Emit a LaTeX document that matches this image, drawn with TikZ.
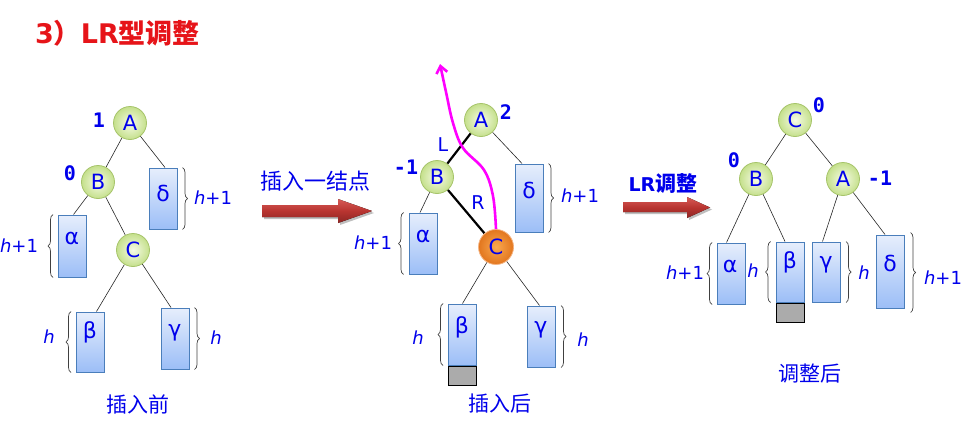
\documentclass[tikz,border=0pt]{standalone}
\usepackage{fontspec}
\setmainfont{DejaVu Sans}
\newfontfamily\cjk{Noto Sans CJK SC}
\newfontfamily\monof{DejaVu Sans Mono}
\usetikzlibrary{decorations.pathreplacing,arrows.meta,backgrounds}
\definecolor{tblue}{RGB}{0,0,235}
\definecolor{cgreen}{RGB}{166,196,106}
\definecolor{cin}{RGB}{246,251,230}
\definecolor{cout}{RGB}{197,224,140}
\definecolor{oin}{RGB}{250,168,80}
\definecolor{oout}{RGB}{226,118,30}
\definecolor{oline}{RGB}{245,180,130}
\definecolor{rblue}{RGB}{74,126,187}
\definecolor{rtop}{RGB}{230,238,252}
\definecolor{rbot}{RGB}{156,190,247}
\definecolor{atop}{RGB}{214,90,86}
\definecolor{amid}{RGB}{184,52,48}
\definecolor{abot}{RGB}{140,38,36}
\definecolor{mag}{RGB}{255,0,255}
\definecolor{ttred}{RGB}{230,20,25}
\begin{document}
\begin{tikzpicture}[x=1pt,y=-1pt,
  tnode/.style={circle, minimum size=33pt, inner sep=0pt, draw=cgreen, line width=0.8pt,
    inner color=cin, outer color=cout, text=tblue, font=\fontsize{21}{22}\selectfont},
  hot/.style={circle, minimum size=35pt, inner sep=0pt, draw=oline, line width=0.8pt,
    inner color=oin, outer color=oout, text=tblue, font=\fontsize{21}{22}\selectfont},
  sub/.style={rectangle, draw=rblue, line width=1pt, top color=rtop, bottom color=rbot,
    minimum width=28pt, inner sep=0pt},
  grey/.style={rectangle, draw=black, line width=0.8pt, fill=black!33,
    minimum width=28pt, minimum height=19pt, inner sep=0pt},
  gk/.style={text=tblue, font=\fontsize{22}{24}\selectfont, inner sep=0pt},
  lbl/.style={text=tblue, font=\fontsize{18}{20}\selectfont, inner sep=0pt},
  bfac/.style={text=tblue, font=\monof\bfseries\fontsize{20}{22}\selectfont, inner sep=0pt},
  brc/.style={draw=black!75, line width=0.7pt, decorate, decoration={brace, amplitude=5pt}},
  tedge/.style={draw=black!85, line width=0.6pt},
  kedge/.style={draw=black, line width=2.2pt},
  captext/.style={text=tblue, font=\cjk\fontsize{21}{22}\selectfont, inner sep=0pt},
  blockarrow/.style={top color=atop, bottom color=abot, middle color=amid, draw=none}
]
\useasboundingbox (0,0) rectangle (974,431);

% title
\node[anchor=west, text=ttred, inner sep=0pt] (title) at (35,33)
  {\fontsize{27}{29}\selectfont\bfseries 3{\cjk\bfseries ）}LR{\cjk\bfseries 型调整}};

% ---------- left tree ----------
\node[tnode] (A1) at (130,123) {A};
\node[tnode] (B1) at (98,182) {B};
\node[tnode] (C1) at (133,250) {C};
\node[sub, minimum height=61pt] (d1) at (163,198.5) {};
\node[sub, minimum height=62pt] (a1) at (72.5,246) {};
\node[sub, minimum height=60pt] (b1) at (90.5,342) {};
\node[sub, minimum height=61pt] (g1) at (175,338.5) {};
\node[gk] (d1t) at (163,193) {δ};
\node[gk] (a1t) at (72,238) {α};
\node[gk] (b1t) at (90,332) {β};
\node[gk] (g1t) at (175,333) {γ};
\node[bfac] (fA1) at (99,120) {1};
\node[bfac] (fB1) at (70,173) {0};
\draw[brc] ([xshift=5pt]d1.north east) -- ([xshift=5pt]d1.south east);
\draw[brc] ([xshift=-5pt]a1.south west) -- ([xshift=-5pt]a1.north west);
\draw[brc] ([xshift=-5pt]b1.south west) -- ([xshift=-5pt]b1.north west);
\draw[brc] ([xshift=5pt]g1.north east) -- ([xshift=5pt]g1.south east);
\node[lbl] (hd1) at (213,198) {{\itshape h}+1};
\node[lbl] (ha1) at (19,246) {{\itshape h}+1};
\node[lbl] (hb1) at (49,337) {{\itshape h}};
\node[lbl] (hg1) at (216,338) {{\itshape h}};
\node[captext] (cap1) at (138,404) {插入前};
\begin{pgfonlayer}{background}
\draw[tedge] (A1) -- (B1);
\draw[tedge] (A1) -- ([xshift=2pt]d1.north);
\draw[tedge] (B1) -- ([xshift=1pt]a1.north);
\draw[tedge] (B1) -- (C1);
\draw[tedge] (C1) -- ([xshift=6pt]b1.north);
\draw[tedge] (C1) -- ([xshift=-4pt]g1.north);
\end{pgfonlayer}

% arrow 1
\fill[black!25] (264,207) -- (340,207) -- (340,201) -- (374,213) -- (340,225) -- (340,219) -- (264,219) -- cycle;
\fill[blockarrow] (262,205) -- (338,205) -- (338,199) -- (372,211) -- (338,223) -- (338,217) -- (262,217) -- cycle;
\node[captext, font=\cjk\fontsize{22}{24}\selectfont] (ins) at (315,181) {插入一结点};

% ---------- middle tree ----------
\node[tnode] (A2) at (481,120) {A};
\node[tnode] (B2) at (437,177) {B};
\node[hot] (C2) at (496,247) {C};
\node[sub, minimum height=68pt] (d2) at (529,198) {};
\node[sub, minimum height=61pt] (a2) at (423,243.5) {};
\node[sub, minimum height=61pt] (b2) at (462.5,334.5) {};
\node[grey, anchor=north] (x2) at (b2.south) {};
\node[sub, minimum height=61pt] (g2) at (541.5,336.5) {};
\node[gk] (d2t) at (529,190) {δ};
\node[gk] (a2t) at (423,236) {α};
\node[gk] (b2t) at (462,327) {β};
\node[gk] (g2t) at (541,330) {γ};
\node[bfac] (fA2) at (506,112) {2};
\node[bfac] (fB2) at (406,167) {-1};
\node[lbl, font=\fontsize{19}{20}\selectfont] (Ll) at (443,145) {L};
\node[lbl, font=\fontsize{19}{20}\selectfont] (Rl) at (478,203) {R};
\draw[brc] ([xshift=5pt]d2.north east) -- ([xshift=5pt]d2.south east);
\draw[brc] ([xshift=-5pt]a2.south west) -- ([xshift=-5pt]a2.north west);
\draw[brc] ([xshift=-5pt]b2.south west) -- ([xshift=-5pt]b2.north west);
\draw[brc] ([xshift=5pt]g2.north east) -- ([xshift=5pt]g2.south east);
\node[lbl] (hd2) at (580,196) {{\itshape h}+1};
\node[lbl] (ha2) at (373,243) {{\itshape h}+1};
\node[lbl] (hb2) at (418,338) {{\itshape h}};
\node[lbl] (hg2) at (583,340) {{\itshape h}};
\node[captext] (cap2) at (500,404) {插入后};
\begin{pgfonlayer}{background}
\draw[kedge] (A2) -- (B2);
\draw[kedge] (B2) -- (C2);
\draw[tedge] (A2) -- ([xshift=-7pt]d2.north);
\draw[tedge] (B2) -- ([xshift=-3pt]a2.north);
\draw[tedge] (C2) -- (b2.north);
\draw[tedge] (C2) -- ([xshift=-2pt]g2.north);
\end{pgfonlayer}
\coordinate (m1) at (493,196);
\coordinate (m2) at (484,170);
\coordinate (m3) at (463,148);
\coordinate (m4) at (453,123);
\coordinate (m5) at (446,92);
\coordinate (mtip) at (440,64);
\draw[mag, line width=2.6pt, -{Straight Barb[length=7pt,width=11pt]}]
  plot[smooth, tension=0.6] coordinates {(C2.north) (m1) (m2) (m3) (m4) (m5) (mtip)};

% arrow 2
\fill[black!25] (625,204) -- (689,204) -- (689,199) -- (712,209.5) -- (689,220) -- (689,214) -- (625,214) -- cycle;
\fill[blockarrow] (623,202) -- (687,202) -- (687,197) -- (710,207.5) -- (687,218) -- (687,212) -- (623,212) -- cycle;
\node[text=tblue, inner sep=0pt] (lrt) at (663,184)
  {\fontsize{19}{21}\selectfont\bfseries LR{\cjk\bfseries\fontsize{21}{23}\selectfont 调整}};

% ---------- right tree ----------
\node[tnode] (C3) at (795,120) {C};
\node[tnode] (B3) at (756,179) {B};
\node[tnode] (A3) at (843,179) {A};
\node[sub, minimum height=61pt] (a3) at (731.5,273.5) {};
\node[sub, minimum height=60pt] (b3) at (790,272) {};
\node[grey, anchor=north] (x3) at (b3.south) {};
\node[sub, minimum height=60pt] (g3) at (826.5,272) {};
\node[sub, minimum height=73pt] (d3) at (890,271.5) {};
\node[gk] (a3t) at (730,266) {α};
\node[gk] (b3t) at (790,262) {β};
\node[gk] (g3t) at (826,265) {γ};
\node[gk] (d3t) at (890,263) {δ};
\node[bfac] (fC3) at (819,105) {0};
\node[bfac] (fB3) at (734,160) {0};
\node[bfac] (fA3) at (880,178) {-1};
\draw[brc] ([xshift=-5pt]a3.south west) -- ([xshift=-5pt]a3.north west);
\draw[brc] ([xshift=-5pt]b3.south west) -- ([xshift=-5pt]b3.north west);
\draw[brc] ([xshift=5pt]g3.north east) -- ([xshift=5pt]g3.south east);
\draw[brc] ([xshift=6pt,yshift=2pt]d3.north east) -- ([xshift=6pt,yshift=-4pt]d3.south east);
\node[lbl] (ha3) at (685,273) {{\itshape h}+1};
\node[lbl] (hb3) at (753,271) {{\itshape h}};
\node[lbl] (hg3) at (864,273) {{\itshape h}};
\node[lbl] (hd3) at (943,278) {{\itshape h}+1};
\node[captext] (cap3) at (810,374) {调整后};
\begin{pgfonlayer}{background}
\draw[tedge] (C3) -- (B3);
\draw[tedge] (C3) -- (A3);
\draw[tedge] (B3) -- ([xshift=-5pt]a3.north);
\draw[tedge] (B3) -- ([xshift=-5pt]b3.north);
\draw[tedge] (A3) -- ([xshift=-4pt]g3.north);
\draw[tedge] (A3) -- ([xshift=-5pt]d3.north);
\end{pgfonlayer}
\end{tikzpicture}
\end{document}
